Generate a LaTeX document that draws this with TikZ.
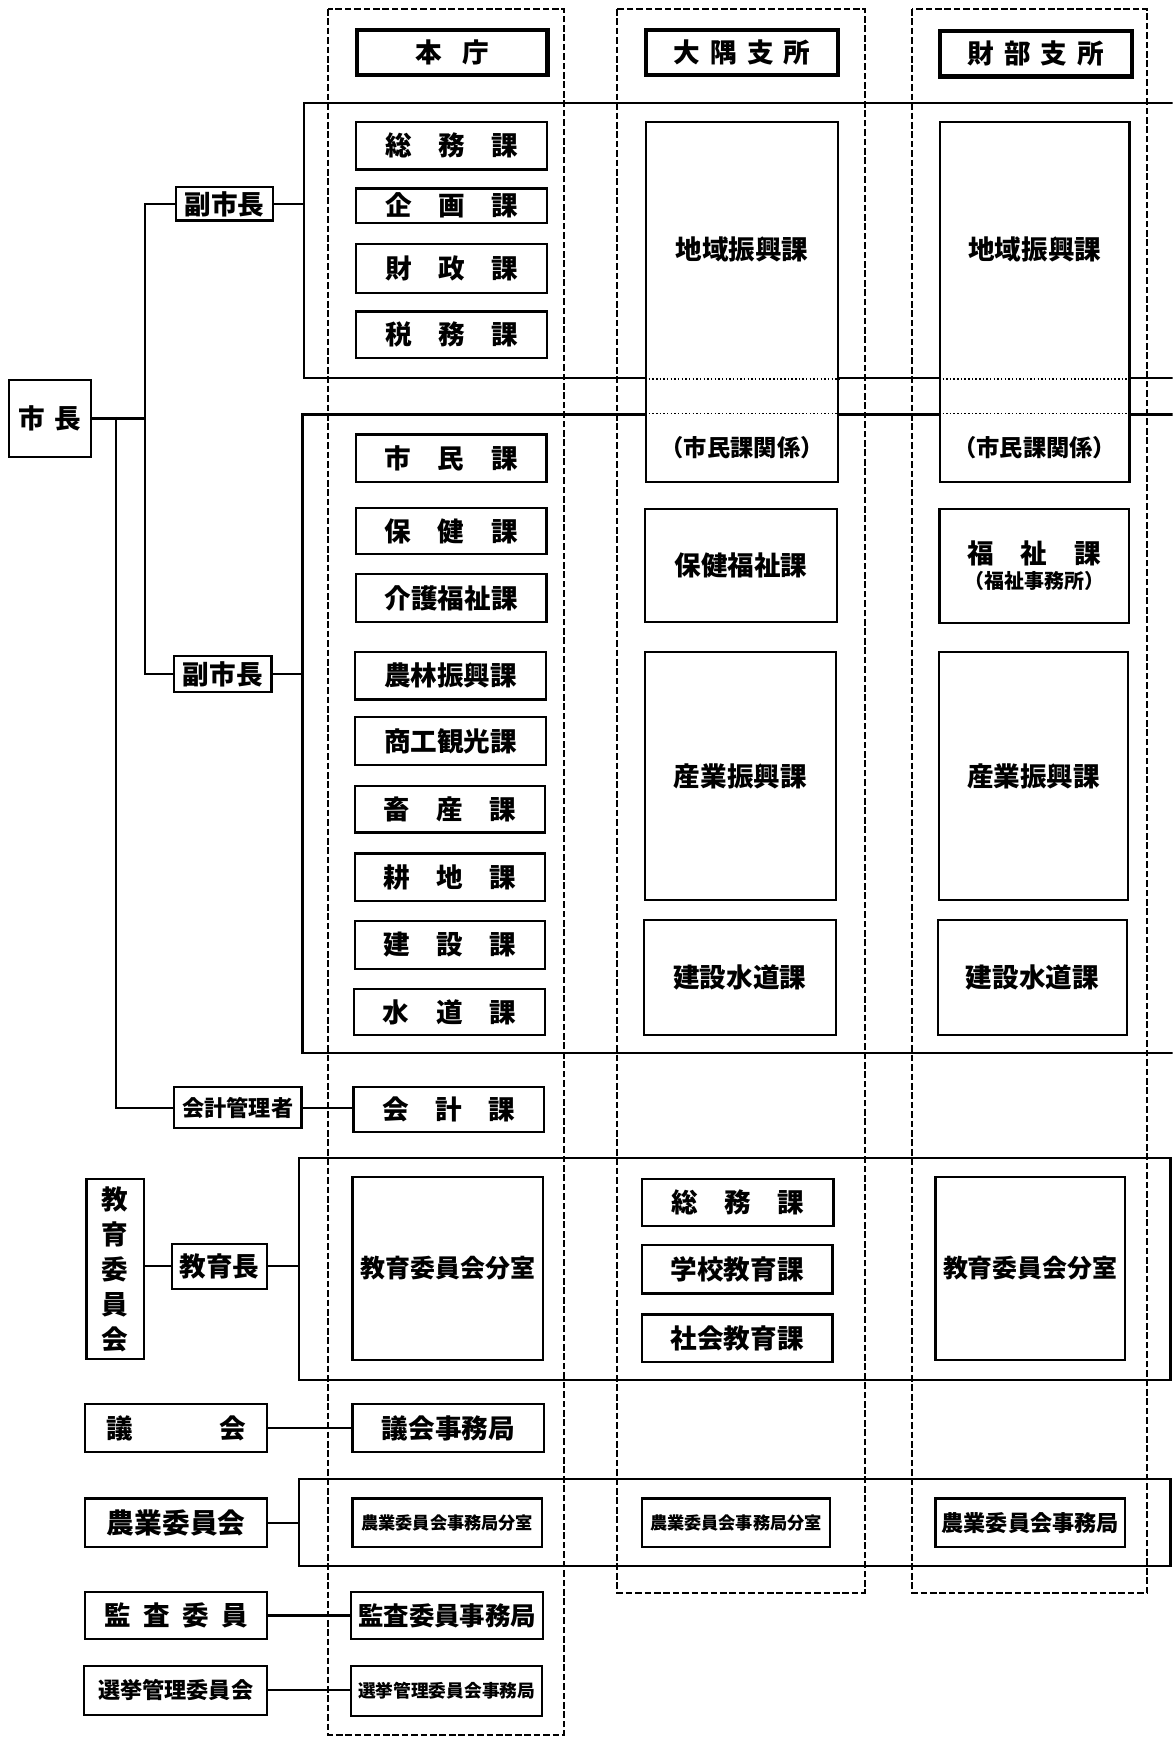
\documentclass[tikz,border=0pt]{standalone}
\usepackage{fontspec}
\setmainfont{Noto Sans CJK JP}
\newcommand{\jsz}[1]{\fontsize{#1}{#1}\selectfont\bfseries}
\tikzset{
  box/.style={draw, line width=2pt, fill=white, inner sep=0pt, font=\jsz{24}},
  hbox/.style={box, minimum width=172pt},
  obox/.style={box, minimum width=173pt},
  tbox/.style={box, minimum width=171pt},
  headbox/.style={box, line width=3.8pt, minimum width=172pt, minimum height=41pt},
  band/.style={draw, line width=2pt, inner sep=0pt},
  column/.style={draw, line width=1.8pt, dash pattern=on 6pt off 2.5pt},
  link/.style={line width=2pt},
  txt/.style={inner sep=0pt, font=\jsz{24}},
}
\begin{document}
\begin{tikzpicture}[x=1pt, y=-1pt]
\useasboundingbox (0,0) rectangle (1058,1568);
\clip (0,0) rectangle (1058,1568);

% bands
\node[band, minimum width=801pt, minimum height=248pt] (band1) at (674.5,217) {};
\node[band, minimum width=802pt, minimum height=576pt] (band2) at (674,662) {};
\node[band, minimum width=786pt, minimum height=200pt] (band3) at (663,1145) {};
\node[band, minimum width=786pt, minimum height=79pt] (band4) at (663,1373.5) {};

% columns
\draw[column] (296,8) rectangle (509,1565);
\draw[column] (557,8) rectangle (780,1437);
\draw[column] (823,8) rectangle (1035,1437);

% headers
\node[headbox] (honcho) at (408,47.5) {本\hspace{18pt}庁};
\node[headbox, minimum width=173pt] (oohead) at (669.5,47.5) {大\hspace{9pt}隅\hspace{9pt}支\hspace{9pt}所};
\node[headbox, minimum width=173pt] (tahead) at (934.5,48.5) {財\hspace{9pt}部\hspace{9pt}支\hspace{9pt}所};

% honcho
\node[hbox, minimum height=43pt] (soumu) at (407.5,131.5) {総　務　課};
\node[hbox, minimum height=31pt] (kikaku) at (407.5,185.5) {企　画　課};
\node[hbox, minimum height=44pt] (zaisei) at (407.5,242) {財　政　課};
\node[hbox, minimum height=42pt] (zeimu) at (407.5,302) {税　務　課};
\node[hbox, minimum height=43pt] (shimin) at (407,413.5) {市　民　課};
\node[hbox, minimum height=42pt] (hoken) at (407,479) {保　健　課};
\node[hbox, minimum height=43pt] (kaigo) at (407,539.5) {介護福祉課};
\node[hbox, minimum height=43pt] (norin) at (406.5,609.5) {農林振興課};
\node[hbox, minimum height=43pt] (shoko) at (406.5,668.5) {商工観光課};
\node[hbox, minimum height=42pt] (chikusan) at (406,730) {畜　産　課};
\node[hbox, minimum height=43pt] (kochi) at (406,791.5) {耕　地　課};
\node[hbox, minimum height=43pt] (kensetsu) at (406,852.5) {建　設　課};
\node[hbox, minimum height=42pt] (suido) at (405.5,913) {水　道　課};
\node[hbox, minimum height=40pt] (kaikeika) at (405,1001) {会　計　課};
\node[hbox, minimum height=165pt, font=\jsz{22.5}] (kbunshitsu) at (404,1144.5) {教育委員会分室};
\node[obox, minimum height=43pt] (gikaijimu) at (404.5,1288.5) {議会事務局};
\node[tbox, minimum height=44pt, font=\jsz{15.5}] (nbunshitsu) at (403.5,1374) {農業委員会事務局分室};
\node[obox, minimum height=43pt, font=\jsz{23}] (kansajimu) at (403.5,1457.5) {監査委員事務局};
\node[hbox, minimum height=45pt, font=\jsz{16}] (senkyojimu) at (403,1525.5) {選挙管理委員会事務局};

% oosumi
\node[obox, minimum height=325pt] (oochiiki) at (669.5,272.5) {};
\node[obox, minimum height=102pt] (oohoken) at (668.5,510) {保健福祉課};
\node[hbox, minimum height=224pt] (oosangyo) at (668,700) {産業振興課};
\node[obox, minimum height=104pt] (ookensetsu) at (667.5,882) {建設水道課};
\node[obox, minimum height=42pt] (oosoumu) at (665.5,1085) {総　務　課};
\node[hbox, minimum height=44pt] (oogakko) at (665,1145) {学校教育課};
\node[hbox, minimum height=43pt] (ooshakai) at (665,1207.5) {社会教育課};
\node[box, minimum width=170pt, minimum height=44pt, font=\jsz{15.5}] (oonogyo) at (664,1374) {農業委員会事務局分室};

% takarabe
\node[tbox, minimum height=325pt] (tachiiki) at (933.5,272.5) {};
\node[tbox, minimum height=103pt, align=center] (tafukushi) at (933,510.5) {福　祉　課\\[-1pt]{\jsz{18}（福祉事務所）}};
\node[tbox, minimum height=224pt] (tasangyo) at (932.5,700) {産業振興課};
\node[tbox, minimum height=104pt] (takensetsu) at (931.5,882) {建設水道課};
\node[tbox, minimum height=165pt, font=\jsz{22.5}] (tabunshitsu) at (929.5,1144.5) {教育委員会分室};
\node[tbox, minimum height=44pt, font=\jsz{20}] (tanogyo) at (929.5,1374) {農業委員会事務局};

% chiiki texts
\draw[dotted, line width=1.3pt] (oochiiki.west |- band1.south) -- (oochiiki.east |- band1.south)
  (oochiiki.west |- band2.north) -- (oochiiki.east |- band2.north)
  (tachiiki.west |- band1.south) -- (tachiiki.east |- band1.south)
  (tachiiki.west |- band2.north) -- (tachiiki.east |- band2.north);
\node[txt] (oochiikit) at (669.5,225) {地域振興課};
\node[txt, font=\jsz{21}] (oochiikis) at (669.5,404) {（市民課関係）};
\node[txt] (tachiikit) at (933.5,225) {地域振興課};
\node[txt, font=\jsz{21}] (tachiikis) at (933.5,404) {（市民課関係）};

% left side
\node[box, minimum width=74pt, minimum height=69pt] (shicho) at (45,377.5) {市\hspace{9pt}長};
\node[box, minimum width=87pt, minimum height=30pt] (fuku1) at (202.5,184) {副市長};
\node[box, minimum width=88pt, minimum height=32pt] (fuku2) at (201,608) {副市長};
\node[box, minimum width=115pt, minimum height=37pt, font=\jsz{20}] (kaikei) at (214.5,999.5) {会計管理者};
\node[box, minimum width=52pt, minimum height=162pt, align=center, font={\fontsize{24}{31.5}\selectfont\bfseries}] (kyoiku) at (104,1145) {教\\育\\委\\員\\会};
\node[box, minimum width=86pt, minimum height=41pt] (kyoikucho) at (198,1142.5) {教育長};
\node[box, minimum width=164pt, minimum height=43pt] (gikai) at (159,1288.5) {議\hspace{78pt}会};
\node[box, minimum width=164pt, minimum height=44pt, font=\jsz{25}] (nogyo) at (159,1374) {農業委員会};
\node[box, minimum width=164pt, minimum height=43pt] (kansa) at (159,1457.5) {監\hspace{11pt}査\hspace{11pt}委\hspace{11pt}員};
\node[box, minimum width=165pt, minimum height=44pt, font=\jsz{20}] (senkyo) at (158.5,1525) {選挙管理委員会};

% links
\coordinate (trunka) at (131,376);
\coordinate (trunkb) at (105,376);
\draw[link] (shicho.east) -- (shicho.east -| trunka);
\draw[link] (fuku1.west) -| (trunka) |- (fuku2.west);
\draw[link] (trunkb) |- (kaikei.west);
\draw[link] (fuku1.east) -- (fuku1.east -| band1.west);
\draw[link] (fuku2.east) -- (fuku2.east -| band2.west);
\draw[link] (kaikei.east) -- (kaikei.east -| kaikeika.west);
\draw[link] (kyoiku.east |- kyoikucho.west) -- (kyoikucho.west);
\draw[link] (kyoikucho.east) -- (kyoikucho.east -| band3.west);
\draw[link] (gikai.east) -- (gikai.east -| gikaijimu.west);
\draw[link] (nogyo.east) -- (nogyo.east -| band4.west);
\draw[link] (kansa.east) -- (kansa.east -| kansajimu.west);
\draw[link] (senkyo.east) -- (senkyo.east -| senkyojimu.west);
\end{tikzpicture}
\end{document}
